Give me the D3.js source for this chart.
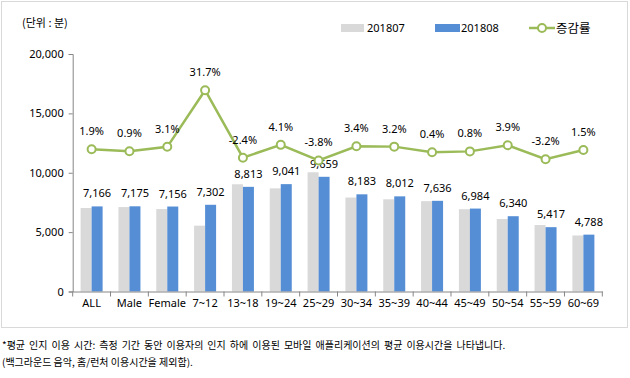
<!DOCTYPE html>
<html><head><meta charset="utf-8">
<script src="https://cdn.jsdelivr.net/npm/d3@7"></script>
<style>
html,body{margin:0;padding:0;background:#fff;}
text{font-family:"Noto Sans","Noto Sans CJK KR",sans-serif;}
.kr{font-family:"Noto Sans CJK KR","Noto Sans",sans-serif;}
</style></head>
<body>
<svg id="chart" width="630" height="378"></svg>
<script>
const categories = ["ALL","Male","Female","7~12","13~18","19~24","25~29","30~34","35~39","40~44","45~49","50~54","55~59","60~69"];
const series201807 = [7032,7111,6941,5544,9030,8685,10041,7914,7764,7606,6929,6102,5596,4717];
const series201808 = [7166,7175,7156,7302,8813,9041,9659,8183,8012,7636,6984,6340,5417,4788];
const growthRate = [1.9,0.9,3.1,31.7,-2.4,4.1,-3.8,3.4,3.2,0.4,0.8,3.9,-3.2,1.5];
const yTicks = [0,5000,10000,15000,20000];
const seriesNames = ["201807","201808","증감률"];

const svg = d3.select("#chart");
const colGray = "#D9D9D9", colBlue = "#558ED5", colGreen = "#9BBB59", axisCol = "#868686";

// border
svg.append("rect").attr("x",1.5).attr("y",1.5).attr("width",626).attr("height",326)
  .attr("fill","none").attr("stroke","#D9D9D9").attr("stroke-width",1);

const x = d3.scaleBand().domain(categories).range([72.7,602.3]).padding(0);
const xs = d3.scaleBand().domain(["201807","201808"]).range([0,x.bandwidth()]).paddingInner(0).paddingOuter(0.72);
const y = d3.scaleLinear().domain([0,20000]).range([291.5,54]);
const y2 = d3.scaleLinear().domain([-70,50]).range([291.5,54]);

// y axis
const yAxis = d3.axisLeft(y).tickValues(yTicks).tickSize(4).tickPadding(5)
  .tickFormat(d3.format(","));
const gy = svg.append("g").attr("transform","translate(72.7,0)").call(yAxis);
gy.select(".domain").attr("stroke",axisCol);
gy.selectAll(".tick line").attr("stroke",axisCol);
gy.selectAll(".tick text").attr("font-size","11px").attr("fill","#000");

// bars
const rows = categories.map((c,i)=>({c, a:series201807[i], b:series201808[i], r:growthRate[i]}));
svg.append("g").selectAll("rect").data(rows).join("rect")
  .attr("x",d=>x(d.c)+xs("201807")).attr("width",xs.bandwidth())
  .attr("y",d=>y(d.a)).attr("height",d=>y(0)-y(d.a)).attr("fill",colGray);
svg.append("g").selectAll("rect").data(rows).join("rect")
  .attr("x",d=>x(d.c)+xs("201808")).attr("width",xs.bandwidth())
  .attr("y",d=>y(d.b)).attr("height",d=>y(0)-y(d.b)).attr("fill",colBlue);

// x axis
const xAxis = d3.axisBottom(x).tickSize(0).tickPadding(8);
const gx = svg.append("g").attr("transform",`translate(0,${y(0)})`).call(xAxis);
gx.select(".domain").attr("stroke",axisCol);
gx.selectAll(".tick text").attr("font-size","11px").attr("fill","#000");
// boundary ticks
const bounds = categories.map(c=>x(c)).concat([x.range()[1]]);
gx.selectAll(".btick").data(bounds).join("line").attr("class","btick")
  .attr("x1",d=>d).attr("x2",d=>d).attr("y1",0).attr("y2",5).attr("stroke",axisCol);

// bar value labels
svg.append("g").selectAll("text").data(rows).join("text")
  .attr("x",d=>x(d.c)+xs("201808")+xs.bandwidth()/2)
  .attr("y",d=>y(d.b)-9)
  .attr("text-anchor","middle").attr("font-size","11px").attr("fill","#000")
  .text(d=>d3.format(",")(d.b));

// line
const cx = d=>x(d.c)+x.bandwidth()/2;
svg.append("path").datum(rows)
  .attr("d",d3.line().x(cx).y(d=>y2(d.r)))
  .attr("fill","none").attr("stroke",colGreen).attr("stroke-width",2.5);
svg.append("g").selectAll("circle").data(rows).join("circle")
  .attr("cx",cx).attr("cy",d=>y2(d.r)).attr("r",4)
  .attr("fill","#fff").attr("stroke",colGreen).attr("stroke-width",2);
svg.append("g").selectAll("text").data(rows).join("text")
  .attr("x",cx).attr("y",d=>y2(d.r)-14)
  .attr("text-anchor","middle").attr("font-size","11px").attr("fill","#000")
  .text(d=>d.r.toFixed(1)+"%");

// unit
svg.append("text").attr("class","kr").attr("x",22).attr("y",27)
  .attr("font-size","11px").attr("fill","#000").text("(단위 : 분)");

// legend
const lg = svg.append("g");
lg.append("rect").attr("x",341).attr("y",24).attr("width",23).attr("height",8).attr("fill",colGray);
lg.append("text").attr("x",367).attr("y",31.5).attr("font-size","11px").text(seriesNames[0]);
lg.append("rect").attr("x",435).attr("y",24).attr("width",25).attr("height",8).attr("fill",colBlue);
lg.append("text").attr("x",461).attr("y",31.5).attr("font-size","11px").text(seriesNames[1]);
lg.append("line").attr("x1",529).attr("x2",555).attr("y1",28).attr("y2",28).attr("stroke",colGreen).attr("stroke-width",2.5);
lg.append("circle").attr("cx",542).attr("cy",28).attr("r",4).attr("fill","#fff").attr("stroke",colGreen).attr("stroke-width",2);
lg.append("text").attr("class","kr").attr("x",556).attr("y",32.5).attr("font-size","12.5px").text(seriesNames[2]);

// footnote
svg.append("text").attr("class","kr").attr("x",2).attr("y",349).attr("font-size","10px").attr("fill","#000")
  .attr("word-spacing","1.8px")
  .text("*평균 인지 이용 시간: 측정 기간 동안 이용자의 인지 하에 이용된 모바일 애플리케이션의 평균 이용시간을 나타냅니다.");
svg.append("text").attr("class","kr").attr("x",2).attr("y",366).attr("font-size","10px").attr("fill","#000")
  .text("(백그라운드 음악, 홈/런처 이용시간을 제외함).");
</script>
</body></html>
